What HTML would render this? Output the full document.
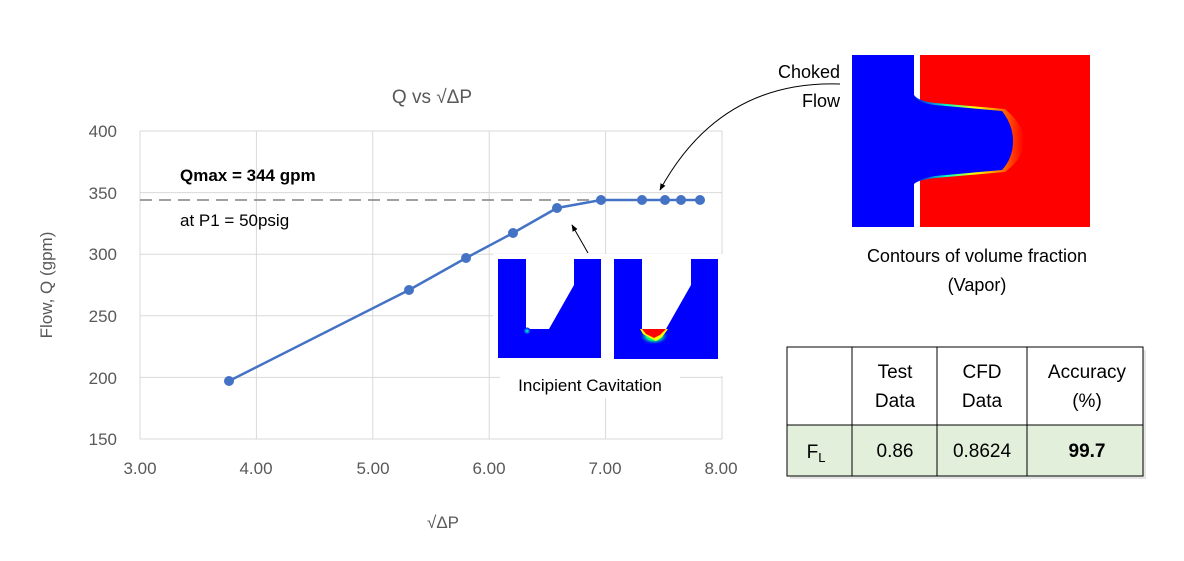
<!DOCTYPE html>
<html><head><style>
body{margin:0;width:1184px;height:556px;background:#fff;overflow:hidden;font-family:"Liberation Sans",Arial,sans-serif}
</style></head><body>
<svg width="1184" height="556" xmlns="http://www.w3.org/2000/svg" font-family="Liberation Sans, Arial, sans-serif">
<defs>
<radialGradient id="g1" cx="0.5" cy="0.5" r="0.5"><stop offset="0" stop-color="#00ffd0"/><stop offset="1" stop-color="#0000ff"/></radialGradient>
<radialGradient id="g2" cx="0.5" cy="0.5" r="0.5"><stop offset="0.5" stop-color="#00ff80"/><stop offset="1" stop-color="#0000ff" stop-opacity="0"/></radialGradient>
<linearGradient id="g3" x1="0" x2="1"><stop offset="0" stop-color="#0000ff"/><stop offset="0.3" stop-color="#00ffc0"/><stop offset="0.55" stop-color="#ffff00"/><stop offset="1" stop-color="#ff0000"/></linearGradient>
<marker id="ah" viewBox="0 0 10 10" refX="9" refY="5" markerWidth="7" markerHeight="7" orient="auto"><path d="M0,1 L10,5 L0,9 z" fill="#000"/></marker>
</defs>
<g stroke="#d9d9d9" stroke-width="1">
<line x1="140" y1="131" x2="722" y2="131"/><line x1="140" y1="192.6" x2="722" y2="192.6"/><line x1="140" y1="254.2" x2="722" y2="254.2"/><line x1="140" y1="315.8" x2="722" y2="315.8"/><line x1="140" y1="377.4" x2="722" y2="377.4"/><line x1="140" y1="439" x2="722" y2="439"/>
<line x1="140" y1="131" x2="140" y2="439"/><line x1="256.4" y1="131" x2="256.4" y2="439"/><line x1="372.8" y1="131" x2="372.8" y2="439"/><line x1="489.2" y1="131" x2="489.2" y2="439"/><line x1="605.6" y1="131" x2="605.6" y2="439"/><line x1="722" y1="131" x2="722" y2="439"/>
</g>
<g fill="#595959" font-size="17">
<text x="432" y="103" text-anchor="middle" font-size="19">Q vs √ΔP</text>
<g text-anchor="end"><text x="117" y="137">400</text><text x="117" y="199">350</text><text x="117" y="260">300</text><text x="117" y="322">250</text><text x="117" y="384">200</text><text x="117" y="445">150</text></g>
<g text-anchor="middle"><text x="140" y="474">3.00</text><text x="256" y="474">4.00</text><text x="373" y="474">5.00</text><text x="489" y="474">6.00</text><text x="605" y="474">7.00</text><text x="721" y="474">8.00</text>
<text x="443" y="528">√ΔP</text>
<text transform="translate(52,285) rotate(-90)">Flow, Q (gpm)</text></g>
</g>
<line x1="140" y1="200" x2="700" y2="200" stroke="#808080" stroke-width="1.5" stroke-dasharray="12,7"/>
<text x="180" y="181" font-size="17" font-weight="bold">Qmax = 344 gpm</text>
<text x="180" y="226" font-size="17">at P1 = 50psig</text>
<polyline fill="none" stroke="#4472c4" stroke-width="2.5" points="229,381 409,290 466,258 513,233 557,208 601,200 642,200 665,200 681,200 700,200"/>
<g fill="#4472c4"><circle cx="229" cy="381" r="5"/><circle cx="409" cy="290" r="5"/><circle cx="466" cy="258" r="5"/><circle cx="513" cy="233" r="5"/><circle cx="557" cy="208" r="5"/><circle cx="601" cy="200" r="5"/><circle cx="642" cy="200" r="5"/><circle cx="665" cy="200" r="5"/><circle cx="681" cy="200" r="5"/><circle cx="700" cy="200" r="5"/></g>
<!-- insets -->
<rect x="493" y="254" width="230" height="122" fill="#fff"/>
<rect x="498" y="259" width="103" height="99" fill="#0000ff"/>
<polygon points="526,259 574,259 574,285 549,329 526,329" fill="#fff"/>
<circle cx="527" cy="331" r="3.5" fill="url(#g1)"/>
<rect x="614" y="259" width="104" height="100" fill="#0000ff"/>
<ellipse cx="654" cy="336" rx="15" ry="9" fill="url(#g2)"/>
<polygon points="640,329 668,329 662,337 656,341 650,338 643,334" fill="#ffff00"/>
<polygon points="642,329 666,329 660,335 654,338 646,334" fill="#ff0000"/>
<polygon points="642,259 691,259 691,285 666,329 642,329" fill="#fff"/>
<rect x="500" y="372" width="180" height="26" fill="#fff"/>
<text x="590" y="391" font-size="17" text-anchor="middle">Incipient Cavitation</text>
<line x1="588" y1="253" x2="572" y2="225" stroke="#000" stroke-width="1" marker-end="url(#ah)"/>
<!-- choked -->
<rect x="852" y="55" width="62" height="172" fill="#0000ff"/>
<rect x="920" y="55" width="170" height="172" fill="#ff0000"/>
<path d="M914,95 Q918,101 935,103 L1005,109 Q1024,125 1024,141 Q1024,158 1005,172 L935,178 Q918,180 914,184 Z" fill="url(#g3)"/>
<path d="M914,97 Q919,103 935,105 L1002,111 Q1013,125 1013,141 Q1013,158 1002,170 L935,176 Q919,179 914,183 Z" fill="#0000ff"/>
<text x="840" y="78" font-size="18" text-anchor="end">Choked</text>
<text x="840" y="107" font-size="18" text-anchor="end">Flow</text>
<path d="M840,84 Q720,80 660,190" fill="none" stroke="#000" stroke-width="1" marker-end="url(#ah)"/>
<text x="977" y="262" font-size="18" text-anchor="middle">Contours of volume fraction</text>
<text x="977" y="291" font-size="18" text-anchor="middle">(Vapor)</text>
<!-- table -->
<rect x="790" y="350" width="356" height="129" fill="#ccc" opacity="0.5"/>
<rect x="787" y="347" width="356" height="129" fill="#fff"/>
<rect x="787" y="425" width="356" height="51" fill="#e2efda"/>
<g stroke="#000" stroke-width="1" fill="none"><rect x="787" y="347" width="356" height="129"/><line x1="787" y1="425" x2="1143" y2="425"/><line x1="852" y1="347" x2="852" y2="476"/><line x1="937" y1="347" x2="937" y2="476"/><line x1="1027" y1="347" x2="1027" y2="476"/></g>
<g font-size="19" text-anchor="middle" fill="#000">
<text x="895" y="378">Test</text><text x="895" y="407">Data</text>
<text x="982" y="378">CFD</text><text x="982" y="407">Data</text>
<text x="1087" y="378">Accuracy</text><text x="1087" y="407">(%)</text>
<text x="816" y="458">F<tspan font-size="13" dy="4">L</tspan></text>
<text x="895" y="457">0.86</text><text x="982" y="457">0.8624</text>
<text x="1087" y="457" font-weight="bold">99.7</text>
</g>
</svg>
</body></html>
